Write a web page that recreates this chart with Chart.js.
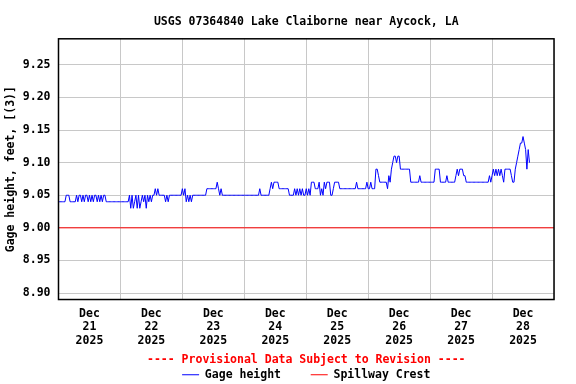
<!DOCTYPE html>
<html>
<head>
<meta charset="utf-8">
<script src="https://cdn.jsdelivr.net/npm/chart.js@4.4.1/dist/chart.umd.min.js"></script>
<style>
  html, body { margin: 0; padding: 0; background: #fff; }
  #chart { display: block; }
</style>
</head>
<body>
<canvas id="chart" width="576" height="384"></canvas>
<script>
// gage height every 30 min, in hundredths of a foot above 9.00 ft
const dec21 = [4,4,4,4,4,4, 5,5,5, 4,4,4,4,4,
  5,4,5,5,4,5,4,5,5,4,5,4,5,4,5,5,4,5,4,5,4,5,5,4,
  4,4,4,4,4,4,4,4,4,4];
const dec22 = [4,4,4,4,4,4,4,
  5,3,5,3,4,5,3,5,3,4,5,4,5,3,5,4,5,4,5,
  5,6,5,6,5,5, 5,5,5, 4,5,4,5,
  5,5,5,5,5,5,5,5,5];
const dec23 = [6,5,6, 4,5,4,5,4, 5,5,5,5,5,5,5,5,5,5,5,
  6,6,6,6,6,6,6,6, 7, 6,5,6,5,
  5,5,5,5,5,5,5,5,5,5,5,5,5,5,5,5];
const dec24 = [5,5,5,5,5,5,5,5,5,5,5,5, 6, 5,5,5,5,5,5,5, 6,7,6, 7,7,7,7,
  6,6,6,6,6,6,6,6, 5,5,5,5, 6,5,6,5,6,5,6,5,5];
const dec25 = [6,5,6,5, 7,7,7, 6,6,6,
  7,5,6,5,7,6,7,7,7,5,5,6,7,7,7,7,
  6,6,6,6,6,6,6,6,6,6,6,6,6, 7, 6,6,6,6,6,6,6, 7];
const dec26 = [6,6,7,6,6,6, 9,9,8, 7,7,7,7,7,7, 6, 8,7, 9,10,11,11,10,11,11,9,
  9,9,9,9,9,9,9, 7,7,7,7,7,7,7, 8, 7,7,7,7,7,7,7];
const dec27 = [7,7,7,7, 9,9,9,9, 7,7,7,7,7, 8, 7,7,7,7,7,7, 8,9,8, 9,9,9, 8,8,
  7,7,7,7,7,7,7,7,7,7,7,7,7,7,7,7,7,7, 8,7];
const dec28 = [8,9,8,9,8,9,8,9,8,7, 9,9,9,9,9, 8,7,7,
  9,10,11,12,13,13,14,13,12,9,12,10];

const gageDays = [dec21, dec22, dec23, dec24, dec25, dec26, dec27, dec28];
const xDayLabels = ['21', '22', '23', '24', '25', '26', '27', '28'];
const yTicks = [8.90, 8.95, 9.00, 9.05, 9.10, 9.15, 9.20, 9.25];
const spillwayCrest = 9.00;

const gagePoints = [];
gageDays.forEach((vals, d) => {
  vals.forEach((v, i) => {
    gagePoints.push({ x: d * 24 + i / 2, y: 9 + v / 100 });
  });
});

const monoFont = { family: '"DejaVu Sans Mono", monospace', size: 11.5, weight: 'bold', lineHeight: 1.2 };
const gridColor = '#c8c8c8';

// black frame round the plot area
const frame = {
  id: 'frame',
  afterDraw(chart) {
    const { ctx, chartArea: a } = chart;
    ctx.save();
    ctx.strokeStyle = '#000';
    ctx.lineWidth = 1.5;
    ctx.strokeRect(a.left, a.top, a.right - a.left, a.bottom - a.top);
    ctx.restore();
  }
};

new Chart(document.getElementById('chart'), {
  type: 'line',
  data: {
    datasets: [
      {
        label: 'Gage height',
        data: gagePoints,
        borderColor: '#0000ff',
        borderWidth: 1,
        pointRadius: 0,
        tension: 0
      },
      {
        label: 'Spillway Crest',
        data: [{ x: 0, y: spillwayCrest }, { x: 192, y: spillwayCrest }],
        borderColor: '#ff0000',
        borderWidth: 1,
        pointRadius: 0
      }
    ]
  },
  options: {
    responsive: false,
    animation: false,
    layout: { padding: { right: 22 } },
    plugins: {
      title: {
        display: true,
        text: 'USGS 07364840 Lake Claiborne near Aycock, LA',
        color: '#000',
        font: monoFont,
        fullSize: false,
        padding: { top: 15, bottom: 10 }
      },
      subtitle: {
        display: true,
        position: 'bottom',
        text: '---- Provisional Data Subject to Revision ----',
        color: '#ff0000',
        font: monoFont,
        fullSize: false,
        weight: 500,
        padding: { top: -2, bottom: 0 }
      },
      legend: {
        position: 'bottom',
        fullSize: false,
        maxHeight: 17,
        labels: {
          boxWidth: 17,
          boxHeight: 1,
          padding: 2,
          color: '#000',
          font: monoFont,
          generateLabels: (chart) => chart.data.datasets.map((ds, i) => ({
            text: i === 0 ? ds.label + '    ' : ds.label,
            fillStyle: ds.borderColor,
            strokeStyle: ds.borderColor,
            lineWidth: 0,
            hidden: false,
            datasetIndex: i,
            fontColor: '#000'
          }))
        }
      },
      tooltip: { enabled: false }
    },
    scales: {
      x: {
        type: 'linear',
        min: 0,
        max: 192,
        afterBuildTicks: (scale) => {
          const t = [];
          for (let h = 0; h <= 192; h += 12) t.push({ value: h });
          scale.ticks = t;
        },
        grid: {
          drawTicks: false,
          color: (c) => (c.tick && c.tick.value % 24 === 0) ? gridColor : 'rgba(0,0,0,0)'
        },
        border: { display: false },
        ticks: {
          autoSkip: false,
          maxRotation: 0,
          padding: 8,
          color: '#000',
          font: { ...monoFont, lineHeight: 1.15 },
          callback: (v) => v % 24 === 12 ? ['Dec', xDayLabels[(v - 12) / 24], '2025'] : ''
        }
      },
      y: {
        min: 8.89,
        max: 9.29,
        afterBuildTicks: (scale) => {
          scale.ticks = yTicks.map(v => ({ value: v }));
        },
        grid: { drawTicks: false, color: gridColor },
        border: { display: false },
        ticks: {
          padding: 8,
          color: '#000',
          font: monoFont,
          callback: (v) => v.toFixed(2)
        },
        title: {
          display: true,
          text: 'Gage height, feet, [(3)]',
          color: '#000',
          font: monoFont,
          padding: { top: 4, bottom: -3 }
        }
      }
    }
  },
  plugins: [frame]
});
</script>
</body>
</html>
